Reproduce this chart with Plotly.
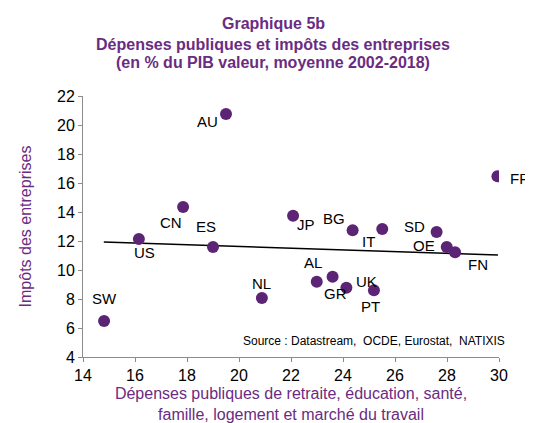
import plotly.graph_objects as go

# Données
pays = ["SW", "US", "CN", "ES", "AU", "NL", "JP", "BG", "IT", "AL",
        "GR", "UK", "PT", "SD", "OE", "FN", "FR"]
depenses = [14.81, 16.15, 17.85, 19.0, 19.5, 20.88, 22.08, 24.37, 25.51, 22.99,
            23.6, 24.13, 25.19, 27.6, 27.99, 28.31, 29.94]
impots = [6.48, 12.14, 14.34, 11.59, 20.76, 8.07, 13.74, 12.74, 12.83, 9.19,
          9.54, 8.78, 8.6, 12.62, 11.59, 11.22, 16.46]

# Droite de tendance (extrémités lues)
tendance_x = [14.8, 29.96]
tendance_y = [11.93, 11.03]

titre = ["Graphique 5b",
         "Dépenses publiques et impôts des entreprises",
         "(en % du PIB valeur, moyenne 2002-2018)"]

# Décalage des étiquettes (pixels)
decal_x = [0, 6, -12, -7, -19, 0, 13, -19, -14, -4, 3, 20, -3, -22, -23, 23, 23]
decal_y = [23, -14, -15, 20, -8, 14, -9, 12, -13, 19, -17, 6, -16, 6, 1, -12, -2]

violet = "#5C2474"
violet_txt = "#6A2C82"

fig = go.Figure()

fig.add_trace(go.Scatter(
    x=tendance_x, y=tendance_y, mode="lines",
    line=dict(color="black", width=1.5), hoverinfo="skip"
))

fig.add_trace(go.Scatter(
    x=depenses, y=impots, mode="markers",
    marker=dict(size=12, color=violet),
    text=pays, hoverinfo="text"
))

for i in range(len(pays)):
    fig.add_annotation(
        x=depenses[i], y=impots[i], text=pays[i], showarrow=False,
        xshift=decal_x[i], yshift=decal_y[i],
        font=dict(size=15, color="black", family="Liberation Sans, Arial")
    )

# Source (en coordonnées papier, sinon masquée hors de l'axe)
fig.add_annotation(
    x=1.02, y=0.062, xref="paper", yref="paper", xanchor="right", yanchor="middle",
    showarrow=False,
    text="Source : Datastream,  OCDE, Eurostat,  NATIXIS",
    font=dict(size=12, color="black", family="Liberation Sans, Arial")
)

# Titre, une ligne par annotation
for ligne, y in zip(titre, [1.276, 1.199, 1.130]):
    fig.add_annotation(
        x=0.457, y=y, xref="paper", yref="paper", xanchor="center", yanchor="middle",
        showarrow=False, text="<b>" + ligne + "</b>",
        font=dict(size=16, color=violet_txt, family="Liberation Sans, Arial")
    )

# la page a une marge de 8 px : la figure fait 525 x 415
fig.update_layout(
    width=525, height=415,
    margin=dict(l=75, r=34, t=88, b=66),
    paper_bgcolor="white", plot_bgcolor="white",
    showlegend=False,
    font=dict(family="Liberation Sans, Arial", color="black", size=16),
    xaxis=dict(
        range=[14, 30], dtick=2, showgrid=False, zeroline=False,
        showline=True, linecolor="#8C8C8C", linewidth=1,
        ticks="outside", ticklen=4, tickcolor="#8C8C8C",
        tickfont=dict(size=16), automargin=False,
        title=dict(
            text="Dépenses publiques de retraite, éducation, santé,<br>"
                 "famille, logement et marché du travail",
            font=dict(size=16, color=violet_txt), standoff=11
        )
    ),
    yaxis=dict(
        range=[4, 22], dtick=2, showgrid=False, zeroline=False,
        showline=True, linecolor="#8C8C8C", linewidth=1,
        ticks="outside", ticklen=4, tickcolor="#8C8C8C",
        tickfont=dict(size=16), automargin=False,
        title=dict(text="Impôts des entreprises",
                   font=dict(size=16, color=violet_txt), standoff=21)
    )
)

fig.write_html("out.html")
